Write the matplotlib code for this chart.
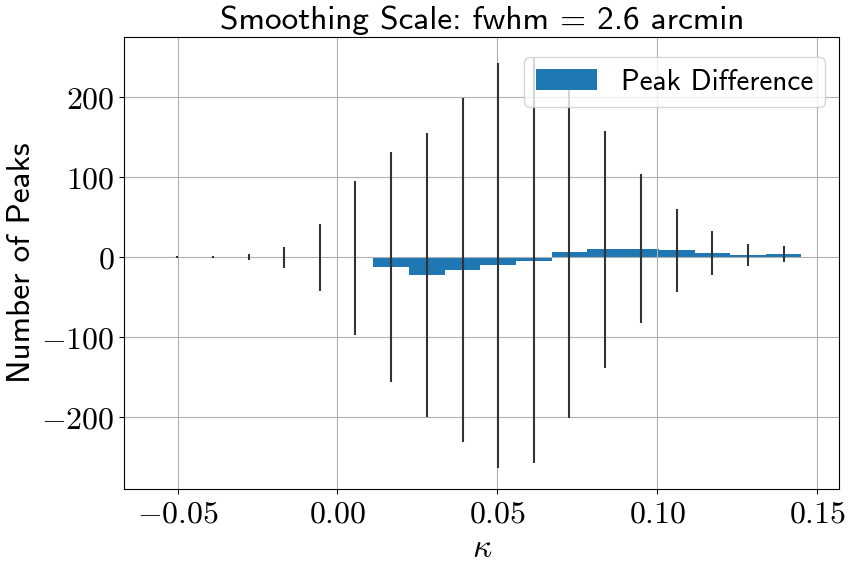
import numpy as np
import matplotlib
matplotlib.use('Agg')
import matplotlib.pyplot as plt
from matplotlib.ticker import FuncFormatter

plt.rcParams['mathtext.fontset'] = 'cm'
plt.rcParams['font.family'] = ['cmss10', 'DejaVu Sans']
plt.rcParams['axes.unicode_minus'] = False

# bin centres in kappa and peak count difference per bin
kappa = [-0.0501, -0.0390, -0.0278, -0.0167, -0.0055, 0.0056, 0.0168, 0.0279, 0.0391,
         0.0502, 0.0614, 0.0725, 0.0837, 0.0948, 0.1060, 0.1171, 0.1283, 0.1394]
peak_diff = [0, 0, 0, 0, -0.5, -0.8, -12.5, -22.5, -16, -10, -4.6, 6.2, 10, 10.2,
             8.7, 5, 2.5, 3.7]
peak_err = [1.2, 1.5, 3.8, 13, 42, 96, 144, 177, 215, 253, 253, 207, 148, 93, 52,
            27, 14, 10]
bin_width = 0.01115

fig = plt.figure(figsize=(8.52, 5.68), dpi=100)
ax = fig.add_axes([0.146, 0.1385, 0.839, 0.7965])

ax.bar(kappa, peak_diff, width=bin_width, yerr=peak_err, color='#1f77b4',
       ecolor='#333333', error_kw={'elinewidth': 1.5}, label='Peak Difference')

ax.grid(True, color='#b0b0b0', linewidth=0.8)
ax.set_xlim(-0.0666, 0.1568)
ax.set_ylim(-290, 275)
ax.set_xticks([-0.05, 0.0, 0.05, 0.10, 0.15])
ax.set_yticks([-200, -100, 0, 100, 200])
ax.xaxis.set_major_formatter(FuncFormatter(lambda v, p: '$%.2f$' % v))
ax.yaxis.set_major_formatter(FuncFormatter(lambda v, p: '$%d$' % round(v)))
ax.tick_params(labelsize=23)

ax.set_title('Smoothing Scale: fwhm = 2.6 arcmin', fontsize=24)
ax.set_xlabel(r'$\kappa$', fontsize=24)
ax.set_ylabel('Number of Peaks', fontsize=24)
ax.legend(loc='upper right', bbox_to_anchor=(1.0, 0.988), fontsize=21,
          handlelength=2.1)

fig.savefig('out.png', dpi=100)
